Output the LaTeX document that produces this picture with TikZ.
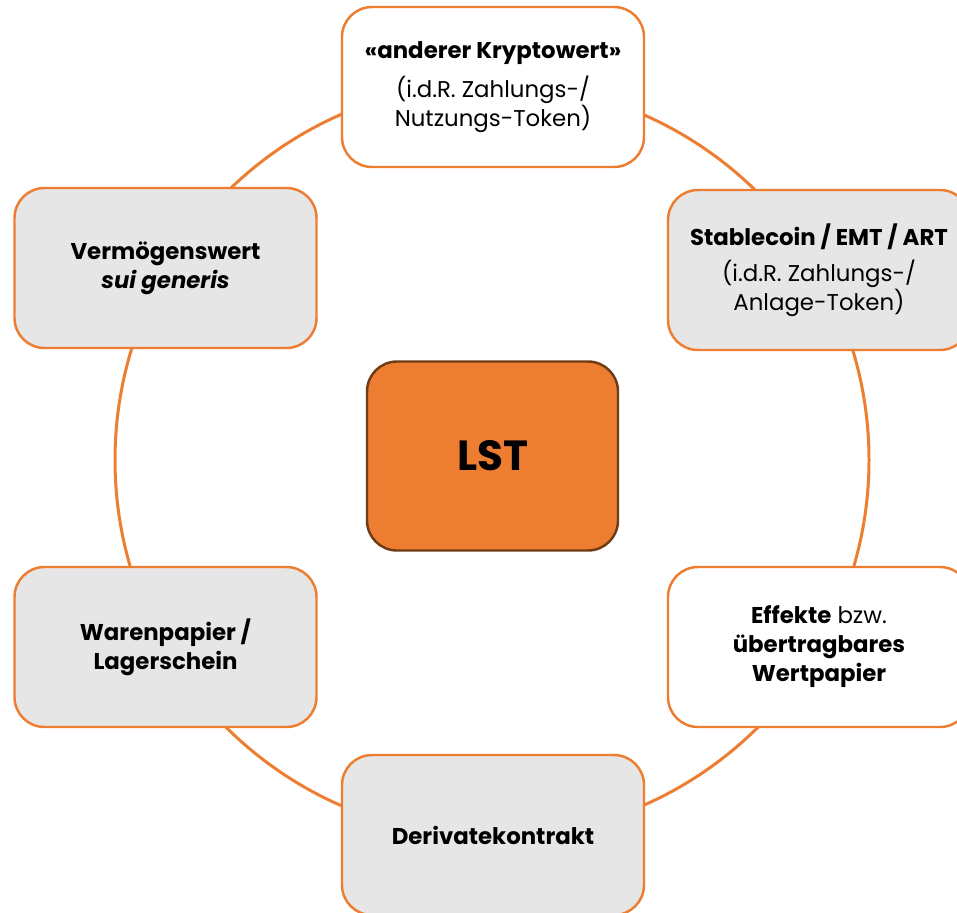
\documentclass[tikz,border=0pt]{standalone}
\usepackage{fontspec}
\setmainfont{Poppins}

\definecolor{lstorange}{HTML}{ED7D31}
\definecolor{lstgray}{HTML}{E7E6E6}
\definecolor{lstbrown}{HTML}{6E3C17}

\tikzset{
  asset/.style={draw=lstorange, line width=1.4pt, rounded corners=0.6cm, fill=white,
    minimum width=6.04cm, minimum height=3.2cm, align=center, inner sep=2pt,
    font=\fontsize{13}{16.5}\selectfont},
  assetgray/.style={asset, fill=lstgray},
  ring/.style={draw=lstorange, line width=1.7pt}
}

\begin{document}
\begin{tikzpicture}

\def \rring{7.54}

\useasboundingbox (0,0) rectangle (19.14,-18.24);

\coordinate (mid) at (9.84,-9.2);
\draw [ring] (mid) circle (\rring);

\node [asset] (kryptowert) at (9.86,-1.74)
  {\textbf{«anderer Kryptowert»}\\[6pt](i.d.R. Zahlungs-/\\Nutzungs-Token)};
\node [assetgray] (stablecoin) at (16.38,-5.4)
  {\textbf{Stablecoin / EMT / ART}\\[4pt](i.d.R. Zahlungs-/\\Anlage-Token)};
\node [asset] (effekte) at (16.38,-12.94)
  {\textbf{Effekte} bzw.\\\textbf{übertragbares}\\\textbf{Wertpapier}};
\node [assetgray] (derivat) at (9.86,-16.7) {\textbf{Derivatekontrakt}};
\node [assetgray] (warenpapier) at (3.31,-12.94) {\textbf{Warenpapier /}\\\textbf{Lagerschein}};
\node [assetgray] (vermoegen) at (3.31,-5.36) {\textbf{Vermögenswert}\\\textbf{\textit{sui generis}}};

\node [asset, fill=lstorange, draw=lstbrown, minimum width=5.02cm, minimum height=3.78cm,
  font=\fontsize{24}{28}\selectfont\bfseries] (lst) at (9.85,-9.12) {LST};

\end{tikzpicture}
\end{document}
